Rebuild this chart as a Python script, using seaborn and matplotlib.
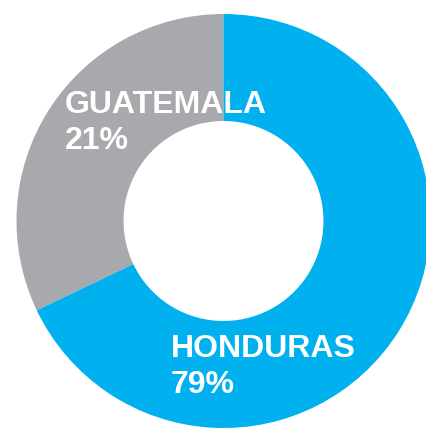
import matplotlib
matplotlib.use("Agg")
import matplotlib.pyplot as plt
import seaborn as sns

sns.set_theme(style="white")
plt.rcParams['font.family'] = ['Liberation Sans', 'DejaVu Sans']

# Slice data (wedge shares as drawn in the picture, labels as printed)
countries = ["GUATEMALA", "HONDURAS"]
wedge_share = [32.1, 67.9]
pct_labels = ["21%", "79%"]
colors = ["#A7A9AC", "#00B0EF"]

fig = plt.figure(figsize=(4.27, 4.28), dpi=100)
ax = fig.add_axes([0, 0, 1, 1])

ax.pie(
    wedge_share,
    colors=colors,
    startangle=90,
    counterclock=True,
    radius=1.0,
    wedgeprops=dict(width=0.517, linewidth=0),
)

# Donut is slightly cropped at right and bottom edges
ax.set_aspect('auto')
ax.set_xlim(-1.0797, 0.9831)
ax.set_ylim(-1.0, 1.0676)
ax.axis('off')

# Label positions in pixels (left, baseline of first line)
label_pos = [(65, 113), (171, 357)]
for name, pct, (px, py) in zip(countries, pct_labels, label_pos):
    fig.text(px / 427, 1 - py / 428, name, color="white", fontsize=23,
             fontweight="bold", ha="left", va="baseline")
    fig.text(px / 427, 1 - (py + 36) / 428, pct, color="white", fontsize=23,
             fontweight="bold", ha="left", va="baseline")

fig.savefig("out.png", dpi=100, facecolor="white")
